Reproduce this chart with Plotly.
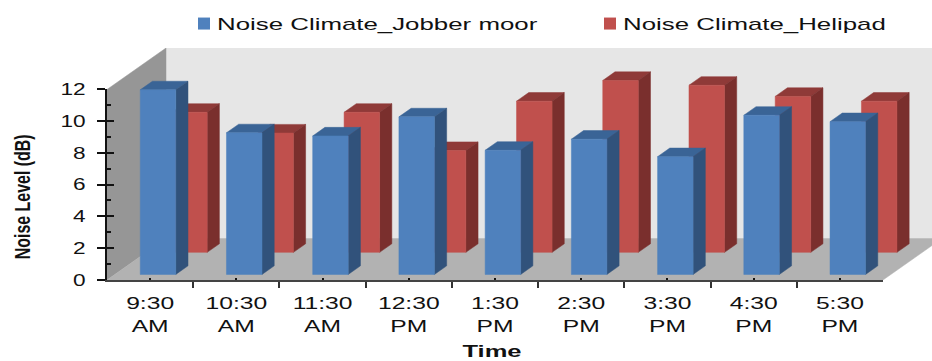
import plotly.graph_objects as go

# Sampling times and noise climate readings (dB) at the two sites
times = ["9:30<br>AM", "10:30<br>AM", "11:30<br>AM", "12:30<br>PM", "1:30<br>PM",
         "2:30<br>PM", "3:30<br>PM", "4:30<br>PM", "5:30<br>PM"]
jobber_moor = [11.6, 8.9, 8.7, 9.9, 7.8, 8.5, 7.4, 10.0, 9.6]
helipad = [8.8, 7.5, 8.8, 6.4, 9.5, 10.8, 10.5, 9.8, 9.5]

W, H = 932, 361
AX_LEFT, AX_RIGHT, AX_ZERO, AX_TOP = 107, 883, 280, 89
SCENE_RIGHT, SCENE_TOP = 932, 48
CAT_PX = (AX_RIGHT - AX_LEFT) / len(times)
UNIT_PX = (AX_ZERO - AX_TOP) / 12

# Oblique projection: full depth shifts a point right and up
DX = 59 / CAT_PX
DY = 41.5 / UNIT_PX
BAR_HALF = 0.206
BAR_DEPTH = 0.207
BLUE_DEPTH = 0.134
RED_DEPTH = 0.666


def project(cat, val, depth):
    return cat + depth * DX, val + depth * DY


def face(points, color):
    xs, ys = zip(*[project(*p) for p in points + points[:1]])
    return go.Scatter(x=xs, y=ys, mode="lines", fill="toself", fillcolor=color,
                      line=dict(color=color, width=0.5), hoverinfo="skip",
                      showlegend=False, xaxis="x", yaxis="y")


def box(i, val, depth0, front, side, top):
    x0, x1 = i + 0.5 - BAR_HALF, i + 0.5 + BAR_HALF
    d1 = depth0 + BAR_DEPTH
    return [
        face([(x0, val, depth0), (x1, val, depth0), (x1, val, d1), (x0, val, d1)], top),
        face([(x1, 0, depth0), (x1, 0, d1), (x1, val, d1), (x1, val, depth0)], side),
        face([(x0, 0, depth0), (x1, 0, depth0), (x1, val, depth0), (x0, val, depth0)], front),
    ]


n = len(times)
wall_top = (AX_ZERO - SCENE_TOP - 41.5) / UNIT_PX

fig = go.Figure()
# Chart walls and floor
fig.add_trace(face([(0, 0, 1), (n + 1, 0, 1), (n + 1, wall_top, 1), (0, wall_top, 1)], "#E6E6E6"))
fig.add_trace(face([(0, 0, 0), (0, 0, 1), (0, wall_top, 1), (0, wall_top, 0)], "#969696"))
fig.add_trace(face([(0, 0, 0), (n, 0, 0), (n, 0, 1), (0, 0, 1)], "#B2B2B2"))

# Rear row first, front row painted over it
for i, v in enumerate(helipad):
    for t in box(i, v, RED_DEPTH, "#C0504D", "#7A2F2D", "#8F3A38"):
        fig.add_trace(t)
for i, v in enumerate(jobber_moor):
    for t in box(i, v, BLUE_DEPTH, "#4F81BD", "#31527B", "#3A6496"):
        fig.add_trace(t)

# Axis carriers and legend entries
fig.add_trace(go.Scatter(x=[0.5], y=[0], xaxis="x2", yaxis="y2", mode="markers",
                         marker=dict(opacity=0), showlegend=False, hoverinfo="skip"))
fig.add_trace(go.Scatter(x=[0.5], y=[0], xaxis="x2", yaxis="y3", mode="markers",
                         marker=dict(opacity=0), showlegend=False, hoverinfo="skip"))
for name, color, legend_id in [("Noise Climate_Jobber moor", "#4F81BD", "legend"),
                               ("Noise Climate_Helipad", "#C0504D", "legend2")]:
    fig.add_trace(go.Scatter(x=[None], y=[None], name=name, mode="markers", xaxis="x2", yaxis="y2",
                             legend=legend_id, marker=dict(symbol="square", size=12, color=color)))

FONT = "Liberation Sans"
hidden = dict(visible=False, fixedrange=True)
legend_style = dict(y=(H - 6) / H, xanchor="left", yanchor="top", itemwidth=30,
                    font=dict(family=FONT, size=17), bgcolor="rgba(0,0,0,0)")
fig.update_layout(
    width=W, height=H, autosize=False, margin=dict(l=0, r=0, t=0, b=0),
    paper_bgcolor="white", plot_bgcolor="rgba(0,0,0,0)",
    font=dict(family=FONT, size=17, color="#111111"),
    xaxis=dict(hidden, domain=[AX_LEFT / W, SCENE_RIGHT / W], range=[0, (SCENE_RIGHT - AX_LEFT) / CAT_PX]),
    yaxis=dict(hidden, domain=[(H - AX_ZERO) / H, (H - SCENE_TOP) / H],
               range=[0, (AX_ZERO - SCENE_TOP) / UNIT_PX]),
    xaxis2=dict(domain=[AX_LEFT / W, AX_RIGHT / W], range=[0, n], anchor="y2", automargin=False,
                tickmode="array", tickvals=[i + 0.5 for i in range(n)], ticktext=times,
                ticks="inside", ticklen=2, tickcolor="#111111", tickwidth=2,
                ticklabelstandoff=7, showgrid=False, zeroline=False,
                showline=True, linecolor="#444444", linewidth=2,
                minor=dict(tickmode="array", tickvals=list(range(n + 1)), ticks="outside",
                           ticklen=6, tickcolor="#333333", tickwidth=2, showgrid=False)),
    yaxis2=dict(domain=[(H - AX_ZERO) / H, (H - AX_TOP) / H], range=[0, 12], anchor="x2", automargin=False,
                tickmode="array", tickvals=list(range(0, 13, 2)), ticks="outside", ticklen=8,
                tickcolor="#111111", tickwidth=2, ticklabelstandoff=8, showgrid=False, zeroline=False,
                showline=True, linecolor="#111111", linewidth=2),
    yaxis3=dict(domain=[(H - AX_ZERO) / H, (H - AX_TOP) / H], range=[0, 12], anchor="x2", automargin=False,
                overlaying="y2", tickmode="array", tickvals=list(range(0, 13, 2)), ticks="inside",
                ticklen=7, tickcolor="#111111", tickwidth=2, showticklabels=False, showgrid=False,
                zeroline=False,
                minor=dict(tickmode="array", tickvals=list(range(1, 12, 2)), ticks="inside",
                           ticklen=4, tickcolor="#111111", tickwidth=2, showgrid=False)),
    legend=dict(legend_style, x=177 / W),
    legend2=dict(legend_style, x=583 / W),
    annotations=[
        dict(text="<b>Noise Level (dB)</b>", textangle=-90, xref="paper", yref="paper",
             x=22 / W, y=(H - 197) / H, showarrow=False, xanchor="center", yanchor="middle",
             font=dict(family=FONT, size=22, color="#111111")),
        dict(text="<b>Time</b>", xref="paper", yref="paper",
             x=492 / W, y=(H - 351) / H, showarrow=False, xanchor="center", yanchor="middle",
             width=70, height=18, borderpad=0, borderwidth=0,
             font=dict(family=FONT, size=17, color="#111111")),
    ],
)

# Widen the labels along their baseline once the figure has been drawn
stretch_text = """
var gd = document.getElementById('{plot_id}');
function stretch(sel, k) {
  gd.querySelectorAll(sel).forEach(function (el) {
    var lines = el.querySelectorAll('tspan.line');
    (lines.length ? Array.from(lines) : [el]).forEach(function (t) {
      t.removeAttribute('textLength');
      t.setAttribute('textLength', t.getComputedTextLength() * k);
      t.setAttribute('lengthAdjust', 'spacingAndGlyphs');
    });
  });
}
function run() {
  stretch('.legendtext, .legend2text', 1.52);
  stretch('.x2tick text', 1.45);
  stretch('.y2tick text', 1.33);
  stretch('.annotation[data-index="0"] .annotation-text', 0.725);
  stretch('.annotation[data-index="1"] .annotation-text', 1.5);
  gd.querySelectorAll('.scrollbox, .annotation [clip-path]').forEach(function (g) {
    g.removeAttribute('clip-path');
    g.style.clipPath = 'none';
  });
  gd.querySelectorAll('.legendsymbols').forEach(function (g) {
    g.setAttribute('transform', 'translate(7,0)');
  });
}
run();
[50, 200, 500].forEach(function (t) { setTimeout(run, t); });
"""
fig.write_html("out.html", post_script=stretch_text)
